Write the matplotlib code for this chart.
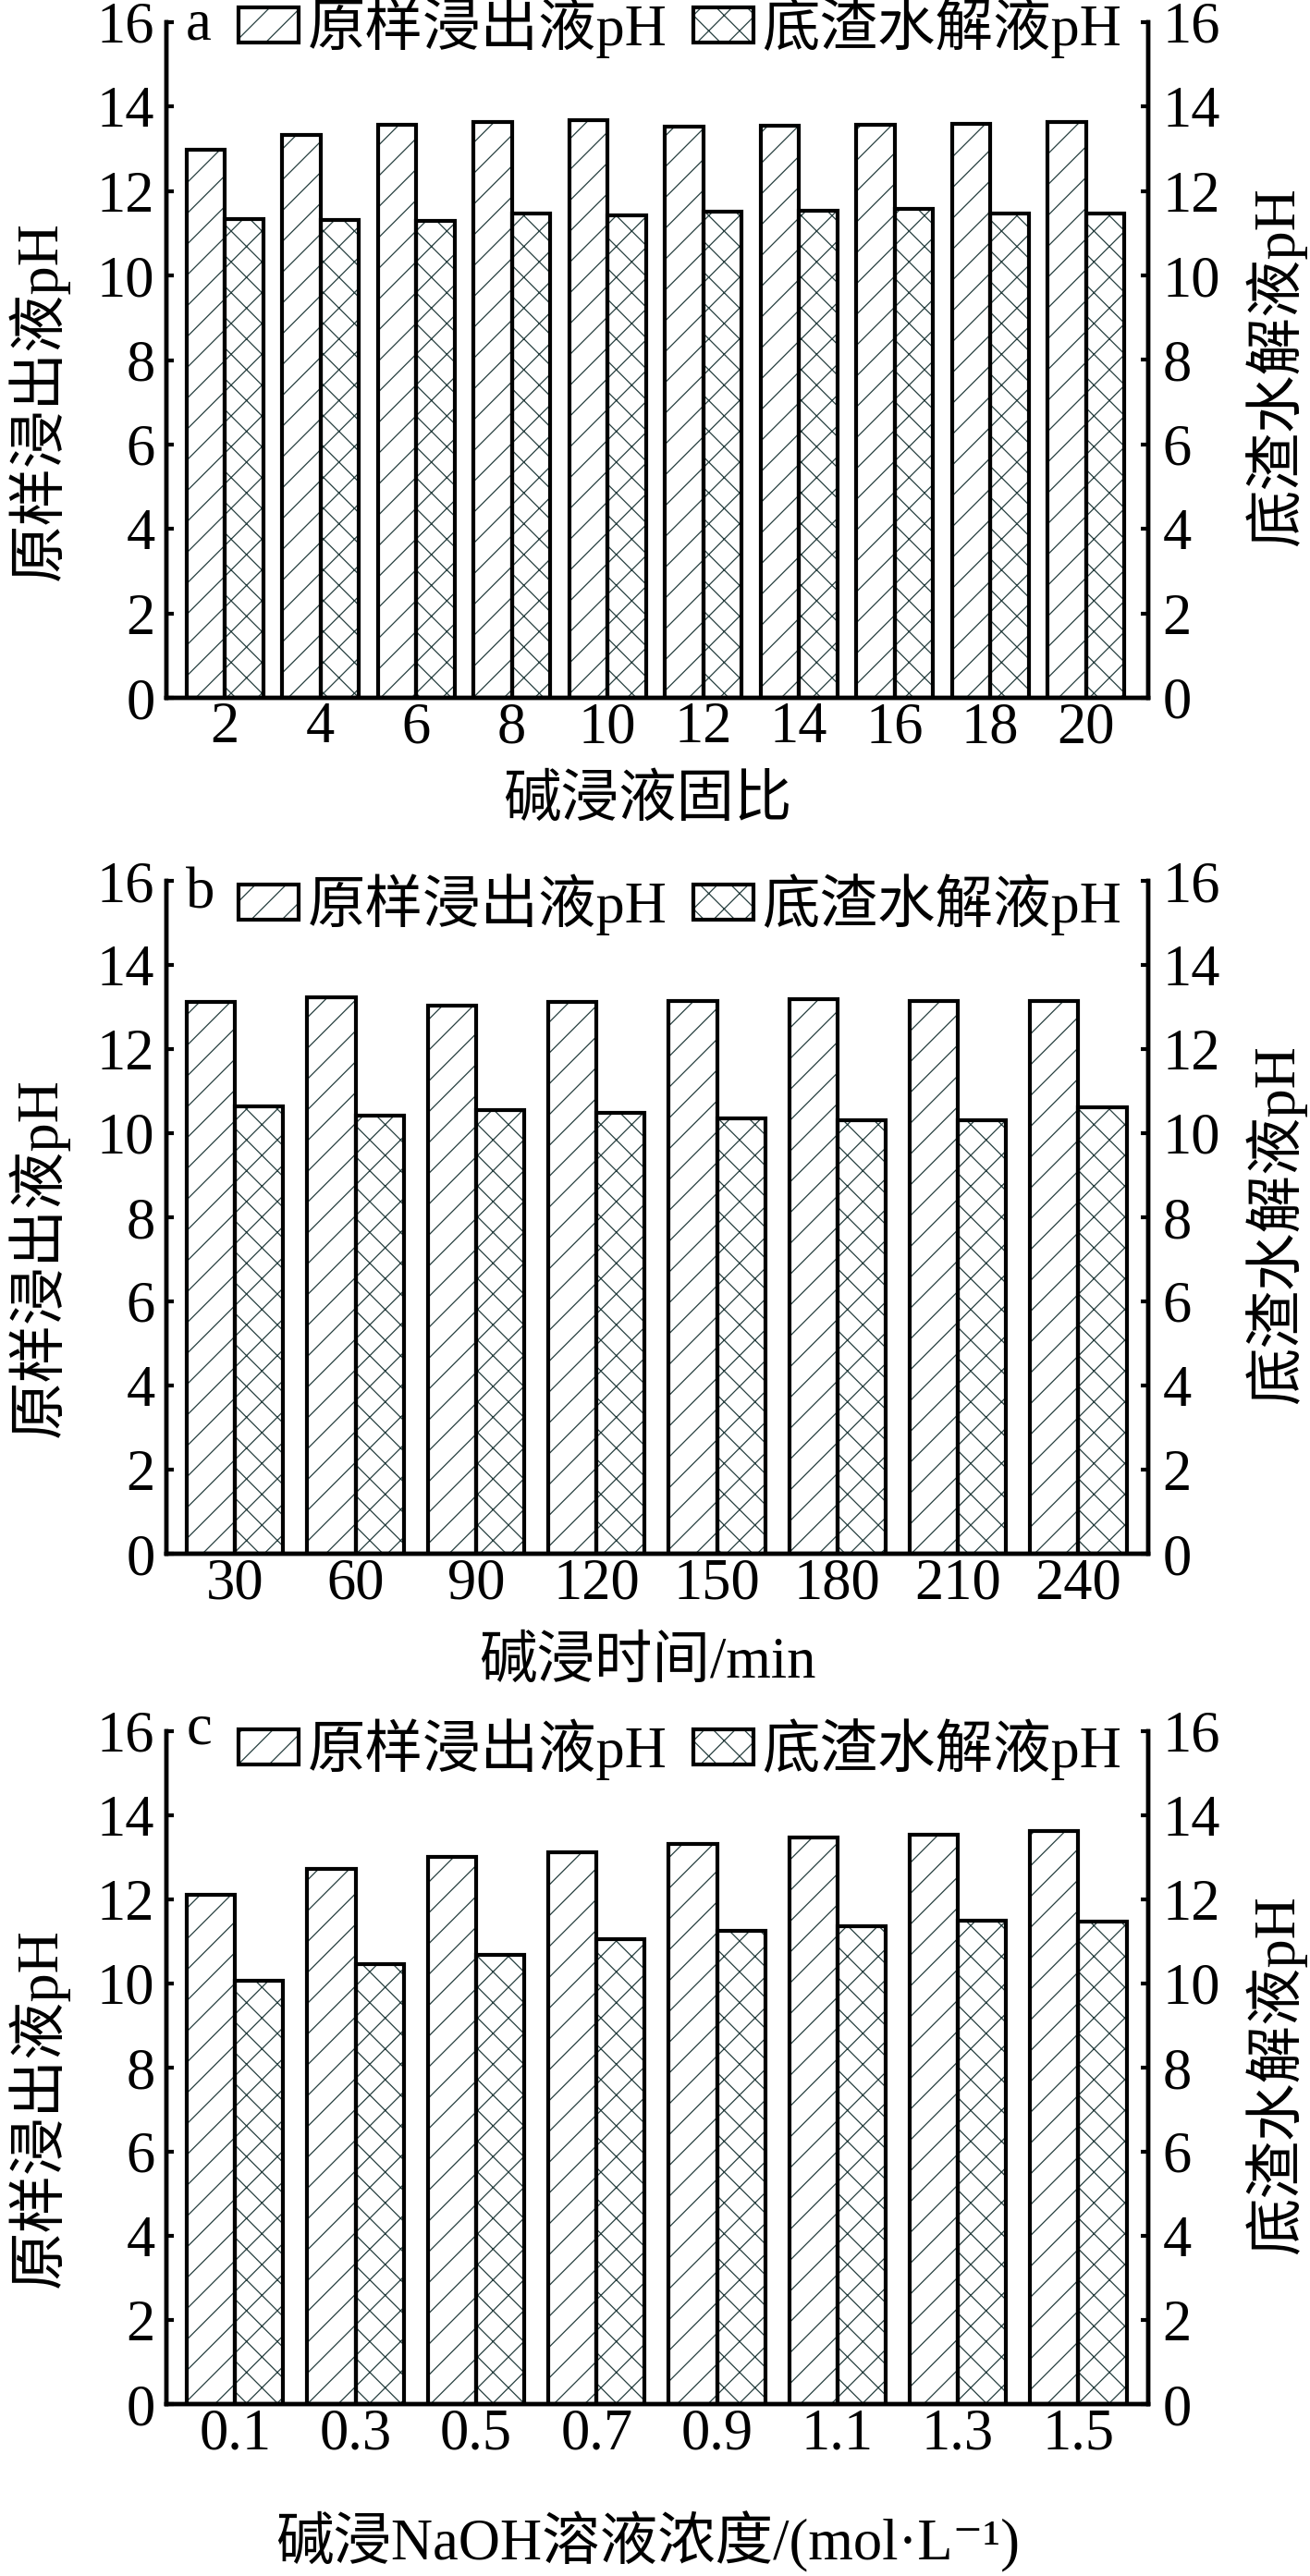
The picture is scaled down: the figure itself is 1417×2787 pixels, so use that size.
import numpy as np
import matplotlib
matplotlib.use("Agg")
import matplotlib.pyplot as plt
from matplotlib.patches import Patch

plt.rcParams['font.family'] = ['Liberation Serif', 'Noto Sans CJK SC', 'DejaVu Serif']
plt.rcParams['hatch.linewidth'] = 0.9

# data
ratio_labels = ['2', '4', '6', '8', '10', '12', '14', '16', '18', '20']
ratio_leach = [12.98, 13.33, 13.57, 13.63, 13.67, 13.52, 13.55, 13.57, 13.60, 13.63]
ratio_resid = [11.33, 11.31, 11.29, 11.47, 11.43, 11.52, 11.54, 11.57, 11.47, 11.47]

time_labels = ['30', '60', '90', '120', '150', '180', '210', '240']
time_leach = [13.12, 13.23, 13.03, 13.12, 13.15, 13.19, 13.14, 13.14]
time_resid = [10.64, 10.42, 10.55, 10.48, 10.36, 10.31, 10.31, 10.62]

conc_labels = ['0.1', '0.3', '0.5', '0.7', '0.9', '1.1', '1.3', '1.5']
conc_leach = [12.12, 12.73, 13.02, 13.12, 13.32, 13.48, 13.54, 13.62]
conc_resid = [10.07, 10.46, 10.69, 11.06, 11.25, 11.36, 11.50, 11.48]

leach_name = '原样浸出液pH'
resid_name = '底渣水解液pH'
left_label = '原样浸出液pH'
right_label = '底渣水解液pH'

hatch_col = '#263f3f'
fs = 45
edge_lw = 3

fig = plt.figure(figsize=(14.17, 27.87), dpi=100)
W, H = 1417, 2787

panels = [
    # letter, labels, leach, resid, xlabel, top px, bottom px, xlim, letter baseline, legend y, xlabel y
    ('a', ratio_labels, ratio_leach, ratio_resid, '碱浸液固比', 24, 755, (-0.61, 9.65), 0.975, 0.992, -0.155),
    ('b', time_labels, time_leach, time_resid, '碱浸时间/min', 953, 1681, (-0.57, 7.58), 0.959, 0.965, -0.163),
    ('c', conc_labels, conc_leach, conc_resid, '碱浸NaOH溶液浓度/(mol·L⁻¹)', 1873, 2601, (-0.57, 7.58), 0.981, 0.973, -0.205),
]

for letter, labels, leach, resid, xlabel, top, bot, xlim, let_y, leg_y, xl_y in panels:
    ax = fig.add_axes([180 / W, 1 - bot / H, 1062 / W, (bot - top) / H])
    x = np.arange(len(labels))
    w = 0.4
    # hatch layer then black outline layer
    ax.bar(x - w / 2, leach, w, color='white', edgecolor=hatch_col, hatch='/', linewidth=0)
    ax.bar(x + w / 2, resid, w, color='white', edgecolor=hatch_col, hatch='x', linewidth=0)
    ax.bar(x - w / 2, leach, w, fill=False, edgecolor='black', linewidth=edge_lw)
    ax.bar(x + w / 2, resid, w, fill=False, edgecolor='black', linewidth=edge_lw)

    ax.set_xlim(*xlim)
    ax.set_ylim(0, 16)
    ax.set_yticks(np.arange(0, 17, 2))
    ax.set_xticks(x)
    ax.set_xticklabels(labels)
    ax.tick_params(axis='x', length=0, pad=3, labelsize=fs)
    ax.tick_params(axis='y', direction='in', length=6, width=3, pad=9, labelsize=fs)
    ax.spines['top'].set_visible(False)
    for s in ['left', 'right', 'bottom']:
        ax.spines[s].set_linewidth(3.2)

    ax2 = ax.twinx()
    ax2.set_ylim(0, 16)
    ax2.set_yticks(np.arange(0, 17, 2))
    ax2.tick_params(axis='y', direction='in', length=6, width=3, pad=11, labelsize=fs)
    ax2.spines['top'].set_visible(False)
    for s in ['left', 'right', 'bottom']:
        ax2.spines[s].set_linewidth(3.2)

    ax.set_ylabel(left_label, fontsize=fs, va='center')
    ax.yaxis.set_label_coords(-0.13, 0.44)
    ax2.set_ylabel(right_label, fontsize=fs, va='center', rotation=90)
    ax2.yaxis.set_label_coords(1.13, 0.49)
    ax.set_xlabel(xlabel, fontsize=fs, va='center')
    ax.xaxis.set_label_coords(0.49, xl_y)

    ax.text(0.02, let_y, letter, transform=ax.transAxes, fontsize=fs,
            ha='left', va='baseline')

    h1 = (Patch(facecolor='white', edgecolor=hatch_col, hatch='/', linewidth=0),
          Patch(fill=False, edgecolor='black', linewidth=edge_lw))
    h2 = (Patch(facecolor='white', edgecolor=hatch_col, hatch='x', linewidth=0),
          Patch(fill=False, edgecolor='black', linewidth=edge_lw))
    ax.legend([h1, h2], [leach_name, resid_name], ncol=2, frameon=False,
              loc='center left', bbox_to_anchor=(0.073, leg_y), fontsize=fs,
              handlelength=1.05, handleheight=0.55, handletextpad=0.15,
              columnspacing=0.45, borderpad=0, borderaxespad=0)

fig.savefig('out.png', dpi=100, facecolor='white')
